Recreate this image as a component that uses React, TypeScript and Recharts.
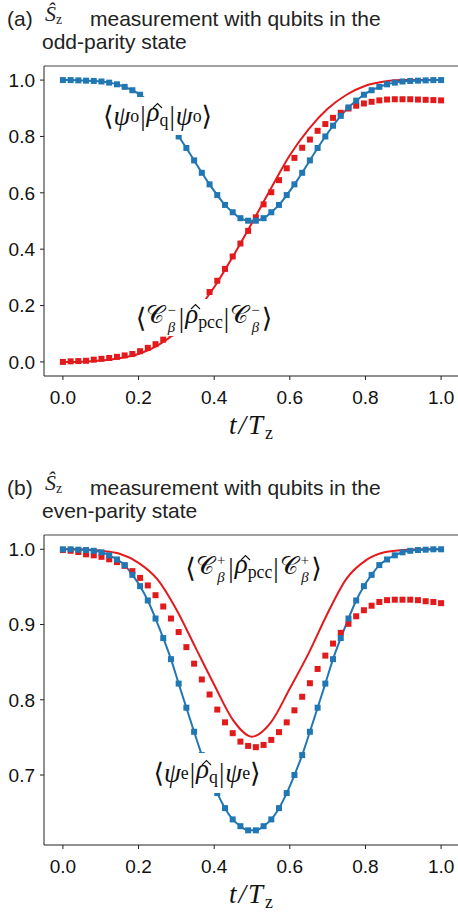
import React from 'react'
import { ComposedChart, Line, XAxis, YAxis, ReferenceLine } from 'recharts'

// simulation time grid (50 points, t/Tz)
const tSim = [
  0, 0.0204, 0.0408, 0.0612, 0.0816, 0.102, 0.1224, 0.1429, 0.1633, 0.1837,
  0.2041, 0.2245, 0.2449, 0.2653, 0.2857, 0.3061, 0.3265, 0.3469, 0.3673, 0.3878,
  0.4082, 0.4286, 0.449, 0.4694, 0.4898, 0.5102, 0.5306, 0.551, 0.5714, 0.5918,
  0.6122, 0.6327, 0.6531, 0.6735, 0.6939, 0.7143, 0.7347, 0.7551, 0.7755, 0.7959,
  0.8163, 0.8367, 0.8571, 0.8776, 0.898, 0.9184, 0.9388, 0.9592, 0.9796, 1,
]

// (a) odd parity
const oddQubit = [
  1.0, 1.0, 0.999, 0.998, 0.997, 0.995, 0.991, 0.985, 0.976, 0.964,
  0.948, 0.927, 0.903, 0.873, 0.838, 0.8, 0.759, 0.715, 0.671, 0.63,
  0.592, 0.557, 0.531, 0.51, 0.501, 0.501, 0.51, 0.531, 0.557, 0.592,
  0.63, 0.671, 0.715, 0.759, 0.8, 0.838, 0.873, 0.903, 0.927, 0.948,
  0.964, 0.976, 0.985, 0.991, 0.995, 0.997, 0.998, 0.999, 1.0, 1.0,
]
const oddPcc = [
  0.0, 0.002, 0.003, 0.004, 0.008, 0.011, 0.014, 0.018, 0.023, 0.028,
  0.038, 0.05, 0.063, 0.079, 0.101, 0.125, 0.15, 0.18, 0.212, 0.248,
  0.288, 0.33, 0.374, 0.42, 0.465, 0.513, 0.559, 0.602, 0.645, 0.687,
  0.724, 0.76, 0.789, 0.82, 0.844, 0.866, 0.884, 0.899, 0.909, 0.917,
  0.923, 0.928, 0.931, 0.932, 0.932, 0.932, 0.931, 0.93, 0.929, 0.928,
]

// (b) even parity
const evenQubit = [
  1.0, 1.0, 0.9995, 0.999, 0.998, 0.996, 0.992, 0.9865, 0.979, 0.966,
  0.951, 0.932, 0.908, 0.882, 0.854, 0.8215, 0.7895, 0.7575, 0.7265, 0.7,
  0.676, 0.656, 0.641, 0.632, 0.6265, 0.6265, 0.632, 0.641, 0.656, 0.676,
  0.7, 0.7265, 0.7575, 0.7895, 0.8215, 0.854, 0.882, 0.908, 0.932, 0.951,
  0.966, 0.979, 0.9865, 0.992, 0.996, 0.998, 0.999, 0.9995, 1.0, 1.0,
]
const evenPcc = [
  0.999, 0.998, 0.9964, 0.9933, 0.992, 0.99, 0.9867, 0.983, 0.978, 0.971,
  0.962, 0.952, 0.939, 0.924, 0.908, 0.89, 0.87, 0.848, 0.827, 0.807,
  0.787, 0.77, 0.7556, 0.7444, 0.7387, 0.737, 0.74, 0.7467, 0.757, 0.77,
  0.786, 0.804, 0.822, 0.841, 0.8587, 0.8747, 0.889, 0.901, 0.911, 0.919,
  0.925, 0.93, 0.9324, 0.933, 0.933, 0.933, 0.9324, 0.931, 0.93, 0.9284,
]

// theory curves (red solid)
const tTheory = [0, 0.05, 0.1, 0.15, 0.2, 0.25, 0.3, 0.35, 0.4, 0.45, 0.5, 0.55, 0.6, 0.65, 0.7, 0.75, 0.8, 0.85, 0.9, 0.95, 1]
const oddPccTheory = [0, 0.001, 0.005, 0.013, 0.028, 0.058, 0.105, 0.175, 0.265, 0.375, 0.493, 0.615, 0.733, 0.826, 0.898, 0.948, 0.98, 0.995, 1.0, 1.0, 1.0]
const evenPccTheory = [1.0, 1.0, 0.998, 0.994, 0.982, 0.96, 0.92, 0.87, 0.82, 0.773, 0.751, 0.77, 0.815, 0.862, 0.915, 0.961, 0.985, 0.996, 0.999, 1.0, 1.0]

const xTicks = [0, 0.2, 0.4, 0.6, 0.8, 1.0]
const oddTicks = [0, 0.2, 0.4, 0.6, 0.8, 1.0]
const evenTicks = [0.7, 0.8, 0.9, 1.0]

const BLUE = '#2077b4'
const RED = '#e31a1c'
const SANS = '"Liberation Sans", Arial, Helvetica, sans-serif'
const SERIF = '"Liberation Serif", "DejaVu Serif", serif'

const zip = (ts: number[], vs: number[]) => ts.map((t, i) => ({ t, v: vs[i] }))

const square = (color: string) => (p: any) => (
  <rect key={`sq-${p.index}`} x={p.cx - 3} y={p.cy - 3} width={6} height={6} fill={color} />
)

const fmt = (v: number) => v.toFixed(1)

const Sub = ({ children }: { children: React.ReactNode }) => (
  <span style={{ fontSize: '0.66em', fontStyle: 'normal', verticalAlign: '-0.28em' }}>{children}</span>
)

// calligraphic C with stacked sign (top) and beta (bottom)
const Cb = ({ sign }: { sign: string }) => (
  <span>
    <span style={{ display: 'inline-block', fontSize: '0.92em' }}>𝒞</span>
    <span
      style={{
        display: 'inline-block',
        fontSize: '0.55em',
        lineHeight: '1.15em',
        verticalAlign: '-0.6em',
        marginLeft: 3,
        marginRight: 2,
        textAlign: 'center',
      }}
    >
      <span style={{ display: 'block' }}>{sign}</span>
      <span style={{ display: 'block', fontStyle: 'italic' }}>β</span>
    </span>
  </span>
)

// rho with a hat drawn as a small caret
const Rho = ({ sub }: { sub: string }) => (
  <span>
    <span style={{ position: 'relative', display: 'inline-block' }}>
      <i>ρ</i>
      <svg
        width={9}
        height={5}
        style={{ position: 'absolute', left: '0.22em', top: '0.22em', overflow: 'visible' }}
      >
        <polyline points="0,5 4.5,0.5 9,5" fill="none" stroke="#111" strokeWidth={1.1} />
      </svg>
    </span>
    <Sub>{sub}</Sub>
  </span>
)

const Bar = () => <span style={{ margin: '0 1px' }}>|</span>

function Note({ left, top, width, height, children }: any) {
  return (
    <div
      style={{
        position: 'absolute',
        left,
        top,
        width,
        height,
        background: '#fff',
        display: 'flex',
        alignItems: 'center',
        justifyContent: 'center',
        fontFamily: SERIF,
        fontSize: 27,
        lineHeight: '30px',
        whiteSpace: 'nowrap',
        color: '#111',
      }}
    >
      {children}
    </div>
  )
}

function Title({ top, tag, second }: { top: number; tag: string; second: string }) {
  const base = {
    position: 'absolute' as const,
    fontFamily: SANS,
    fontSize: 21,
    lineHeight: '21px',
    color: '#222',
    whiteSpace: 'nowrap' as const,
  }
  return (
    <>
      <div style={{ ...base, left: 7, top: top + 8 }}>{tag}</div>
      <div style={{ ...base, left: 45, top: top + 5, fontFamily: SERIF, fontSize: 22, lineHeight: '18px' }}>
        <i>Ŝ</i>
        <span style={{ fontSize: '0.62em', verticalAlign: '-0.2em' }}>z</span>
      </div>
      <div style={{ ...base, left: 90, top: top + 8 }}>measurement with qubits in the</div>
      <div style={{ ...base, left: 42, top: top + 31 }}>{second}</div>
    </>
  )
}

function Panel({ top, domain, yTicks, qubit, pcc, pccTheory }: any) {
  return (
    <div style={{ position: 'absolute', left: 0, top, width: 460, height: 446 }}>
      <ComposedChart width={460} height={446} margin={{ top: 66, right: 0, bottom: 0, left: 0 }}>
        <XAxis
          type="number"
          dataKey="t"
          domain={[-0.05, 1.05]}
          ticks={xTicks}
          tickFormatter={fmt}
          tickSize={4}
          tickMargin={11}
          height={70}
          stroke="#222"
          tick={{ fill: '#111', fontSize: 19, fontFamily: SANS }}
          allowDataOverflow
        />
        <YAxis
          type="number"
          domain={domain}
          ticks={yTicks}
          tickFormatter={fmt}
          tickSize={4}
          tickMargin={5}
          width={44}
          stroke="#222"
          tick={{ fill: '#111', fontSize: 19, fontFamily: SANS }}
          allowDataOverflow
        />
        <ReferenceLine y={domain[1]} stroke="#444" />
        <Line
          data={zip(tTheory, pccTheory)}
          dataKey="v"
          type="monotone"
          stroke={RED}
          strokeWidth={2}
          dot={false}
          isAnimationActive={false}
        />
        <Line
          data={zip(tSim, pcc)}
          dataKey="v"
          stroke="none"
          strokeWidth={0}
          dot={square(RED)}
          isAnimationActive={false}
        />
        <Line
          data={zip(tSim, qubit)}
          dataKey="v"
          type="monotone"
          stroke={BLUE}
          strokeWidth={2}
          dot={square(BLUE)}
          isAnimationActive={false}
        />
      </ComposedChart>
      <div
        style={{
          position: 'absolute',
          left: 212,
          top: 410,
          width: 80,
          textAlign: 'center',
          fontFamily: SERIF,
          fontSize: 27,
          fontStyle: 'italic',
          letterSpacing: 2,
          color: '#111',
        }}
      >
        t/T<Sub>z</Sub>
      </div>
    </div>
  )
}

export default function App() {
  return (
    <div
      style={{ position: 'absolute', left: 0, top: 0, width: 458, height: 917, overflow: 'hidden', background: '#fff' }}
    >
      <Title top={0} tag="(a)" second="odd-parity state" />
      <Panel top={0} domain={[-0.05, 1.05]} yTicks={oddTicks} qubit={oddQubit} pcc={oddPcc} pccTheory={oddPccTheory} />
      <Note left={93} top={97} width={129} height={38}>
        ⟨<i>ψ</i>
        <Sub>o</Sub>
        <Bar />
        <Rho sub="q" />
        <Bar />
        <i>ψ</i>
        <Sub>o</Sub>⟩
      </Note>
      <Note left={120} top={299} width={168} height={37}>
        ⟨<Cb sign="−" />
        <Bar />
        <Rho sub="pcc" />
        <Bar />
        <Cb sign="−" />⟩
      </Note>

      <Title top={469} tag="(b)" second="even-parity state" />
      <Panel
        top={469}
        domain={[0.607, 1.019]}
        yTicks={evenTicks}
        qubit={evenQubit}
        pcc={evenPcc}
        pccTheory={evenPccTheory}
      />
      <Note left={170} top={549} width={167} height={38}>
        ⟨<Cb sign="+" />
        <Bar />
        <Rho sub="pcc" />
        <Bar />
        <Cb sign="+" />⟩
      </Note>
      <Note left={142} top={753} width={130} height={40}>
        ⟨<i>ψ</i>
        <Sub>e</Sub>
        <Bar />
        <Rho sub="q" />
        <Bar />
        <i>ψ</i>
        <Sub>e</Sub>⟩
      </Note>
    </div>
  )
}
